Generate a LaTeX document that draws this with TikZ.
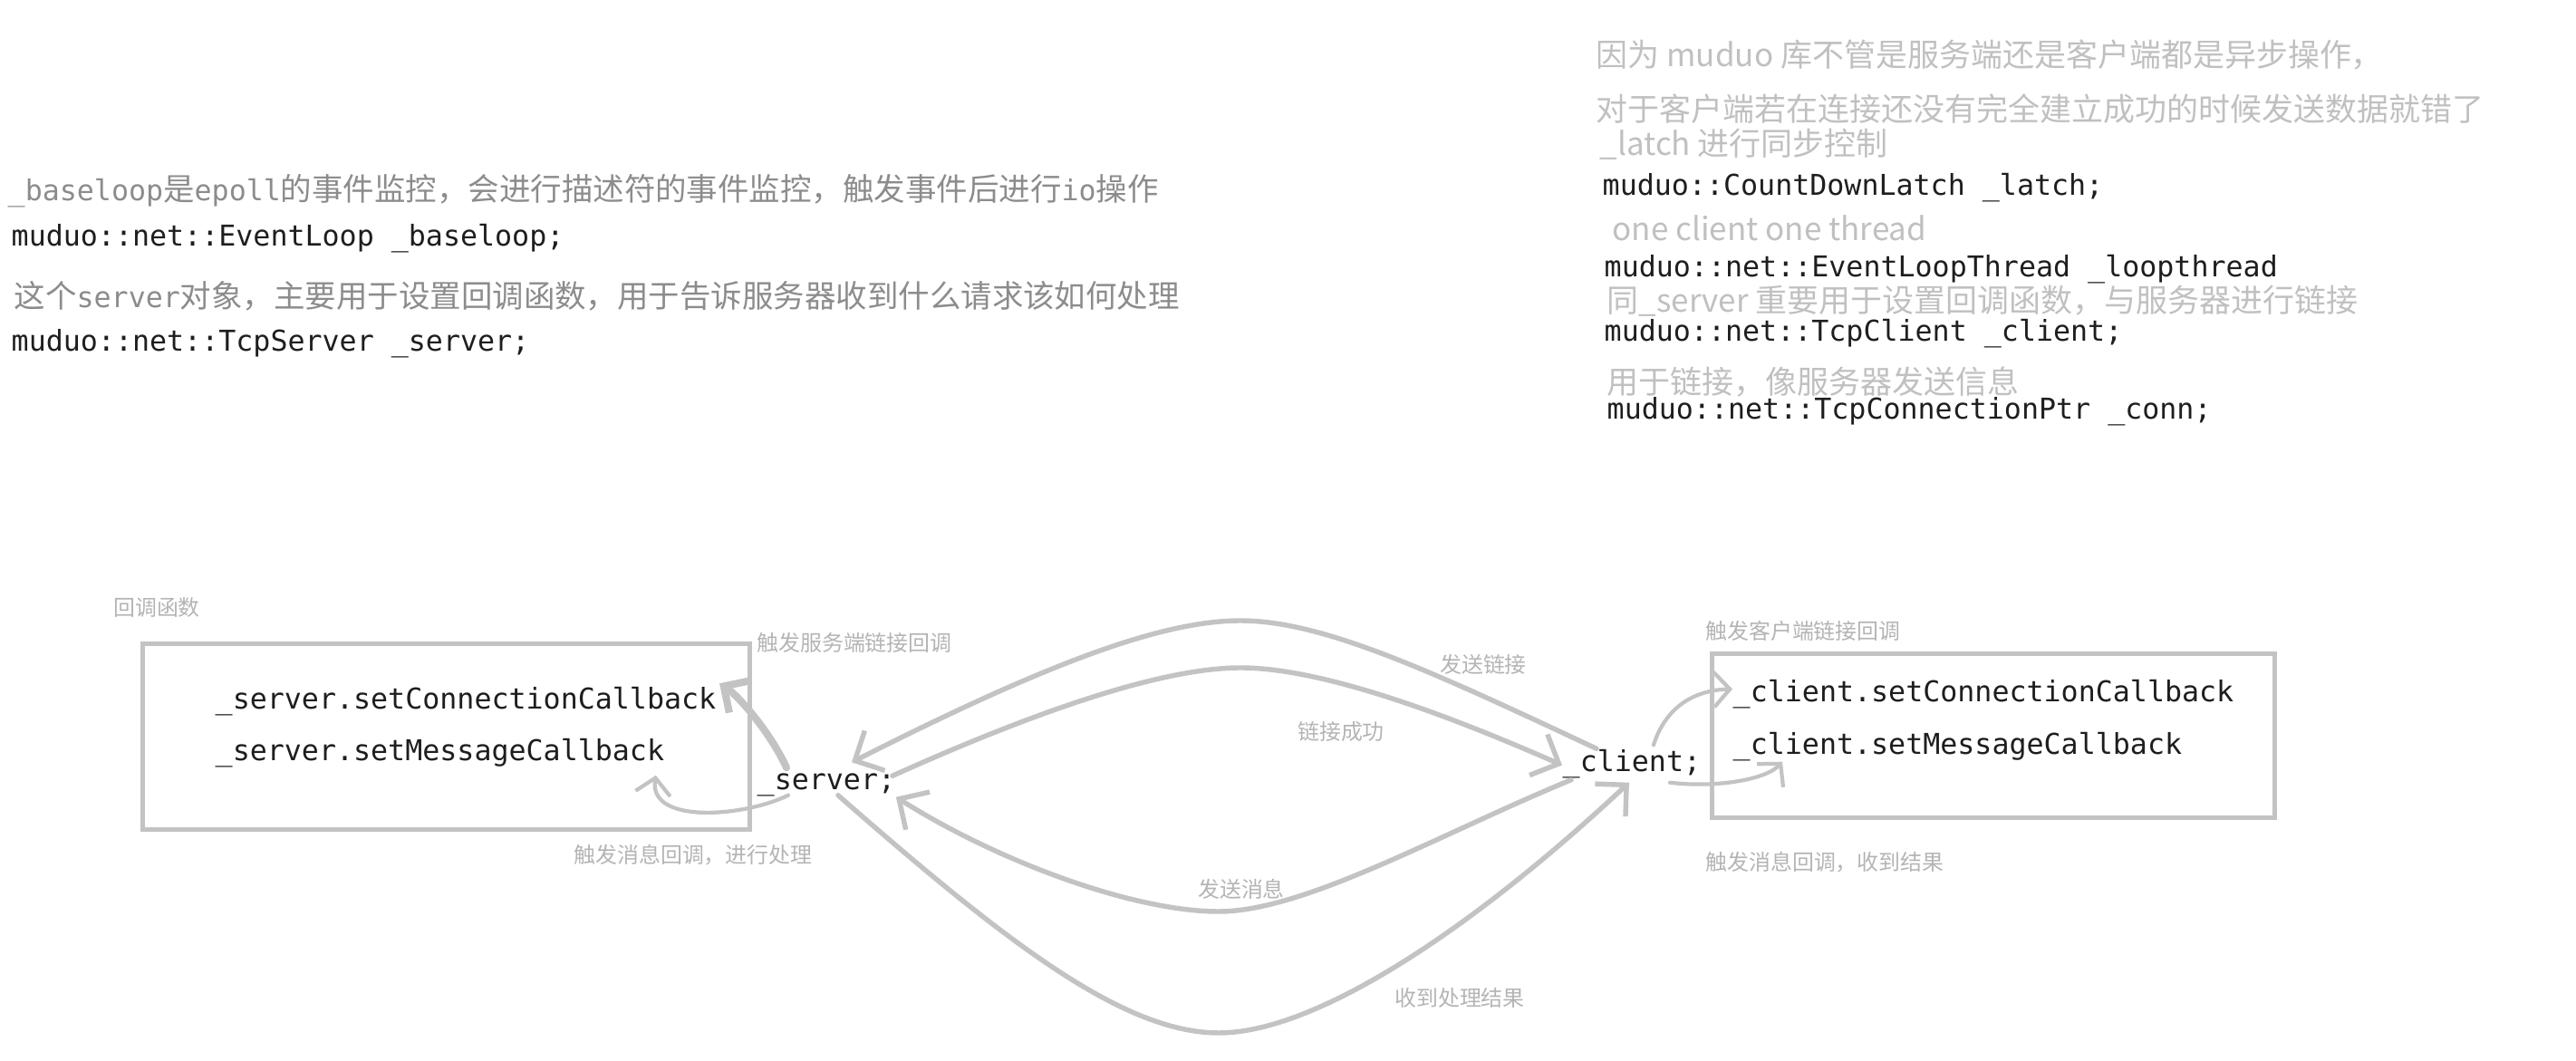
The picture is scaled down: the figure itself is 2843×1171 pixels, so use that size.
\documentclass[tikz,border=0pt]{standalone}
\usepackage{fontspec}
\setmonofont{DejaVu Sans Mono}
\newfontfamily\cjk{Noto Sans CJK SC}
\usepackage{xcolor}
\usepackage{tikz}
\usetikzlibrary{arrows.meta}
\definecolor{codeink}{HTML}{1E1E1E}
\definecolor{notedark}{HTML}{8C8C8C}
\definecolor{notelight}{HTML}{C0C0C0}
\definecolor{taggray}{HTML}{B4B4B4}
\definecolor{linegray}{HTML}{C3C3C3}
\newcommand{\hanzi}[1]{{\cjk\fontsize{9.8}{12}\selectfont #1}}
\tikzset{
  codetxt/.style={
    anchor=base west, inner sep=0pt, text=codeink,
    font=\fontsize{9}{11}\selectfont\ttfamily,
    text height=0.22cm, text depth=0.07cm},
  darknote/.style={
    anchor=base west, inner sep=0pt, text=notedark,
    font=\fontsize{9}{11}\selectfont\ttfamily},
  lightnote/.style={
    anchor=base west, inner sep=0pt, text=notelight,
    font=\cjk\fontsize{9.95}{12}\selectfont},
  edgetag/.style={
    inner sep=0pt, text=taggray,
    font=\cjk\fontsize{6.8}{8}\selectfont},
  cbbox/.style={rectangle, draw=linegray, line width=1.42pt},
  flowline/.style={draw=linegray, line width=1.55pt, line cap=round,
    -{Straight Barb[length=7pt,width=14pt]}},
  hookline/.style={draw=linegray, line width=1.2pt, line cap=round,
    -{Straight Barb[length=5pt,width=11pt]}},
  kickline/.style={draw=linegray, line width=2.3pt, line cap=round,
    -{Straight Barb[length=6pt,width=12pt]}},
}
\begin{document}
\begin{tikzpicture}[x=0.01cm, y=-0.01cm]
  \useasboundingbox (0,0) rectangle (2843,1171);
  % server side members
  \node[darknote] (nbase) at (8,222) {\_baseloop\hanzi{是}epoll\hanzi{的事件监控，会进行描述符的事件监控，触发事件后进行}io\hanzi{操作}};
  \node[codetxt] (cbase) at (12,272) {muduo::net::EventLoop \_baseloop;};
  \node[darknote] (nsrv) at (15,340) {\hanzi{这个}server\hanzi{对象，主要用于设置回调函数，用于告诉服务器收到什么请求该如何处理}};
  \node[codetxt] (csrv) at (12,388) {muduo::net::TcpServer \_server;};
  % client side members
  \node[lightnote] (nasync) at (1761,74) {因为 muduo 库不管是服务端还是客户端都是异步操作，};
  \node[lightnote] (nearly) at (1761,134) {对于客户端若在连接还没有完全建立成功的时候发送数据就错了};
  \node[lightnote] (nlatch) at (1765,172) {\_latch 进行同步控制};
  \node[codetxt] (clatch) at (1768,216) {muduo::CountDownLatch \_latch;};
  \node[lightnote] (nthread) at (1779,266) {one client one thread};
  \node[codetxt] (cthread) at (1770,306) {muduo::net::EventLoopThread \_loopthread};
  \node[lightnote] (nclient) at (1773,345) {同\_server 重要用于设置回调函数，与服务器进行链接};
  \node[codetxt] (cclient) at (1770,377) {muduo::net::TcpClient \_client;};
  \node[lightnote] (nconn) at (1773,435) {用于链接，像服务器发送信息};
  \node[codetxt] (cconnptr) at (1773,463) {muduo::net::TcpConnectionPtr \_conn;};

  % callback boxes
  \node[cbbox, minimum width=6.69cm, minimum height=2.04cm] (sbox) at (492.5,813) {};
  \node[cbbox, minimum width=6.2cm, minimum height=1.815cm] (cbox) at (2200,812) {};
  \node[codetxt] (sconn) at (237,783) {\_server.setConnectionCallback};
  \node[codetxt] (smsg) at (237,840) {\_server.setMessageCallback};
  \node[codetxt] (cconn) at (1912,775) {\_client.setConnectionCallback};
  \node[codetxt] (cmsg) at (1912,833) {\_client.setMessageCallback};
  \node[codetxt] (server) at (835,872) {\_server;};
  \node[codetxt] (client) at (1724,852) {\_client;};

  % labels
  \node[edgetag] (tcbf) at (173,670) {回调函数};
  \node[edgetag] (tscb) at (943,709) {触发服务端链接回调};
  \node[edgetag] (tsmsg) at (765,944) {触发消息回调，进行处理};
  \node[edgetag] (tccb) at (1990,696) {触发客户端链接回调};
  \node[edgetag] (tcmsg) at (2014,952) {触发消息回调，收到结果};
  \node[edgetag] (tsend) at (1637,733) {发送链接};
  \node[edgetag] (tok) at (1480,807) {链接成功};
  \node[edgetag] (tmsg) at (1370,981) {发送消息};
  \node[edgetag] (tres) at (1611,1101) {收到处理结果};

  % server <-> client
  \draw[flowline] ([shift={(38,-3)}]client.north west)
    .. controls (1580,741) and (1460,685) .. (1369,685)
    .. controls (1280,685) and (1150,735) .. ([shift={(105,-8)}]server.north west);
  \draw[flowline] ([shift={(-4,7)}]server.north east)
    .. controls (1110,800) and (1270,737) .. (1369,737)
    .. controls (1460,737) and (1600,790) .. (client.west);
  \draw[flowline] ([shift={(10,1)}]client.south west)
    .. controls (1590,920) and (1440,1006) .. (1345,1006)
    .. controls (1250,1006) and (1100,950) .. (server.south east);
  \draw[flowline] ([shift={(13,-2)}]server.south)
    .. controls (1110,1040) and (1240,1140) .. (1345,1140)
    .. controls (1450,1140) and (1620,1030) .. ([shift={(-3,4)}]client.south);

  % callbacks fired
  \draw[kickline] ([shift={(33,-2)}]server.north west)
    .. controls (850,808) and (815,768) .. ([shift={(3,-6)}]sconn.north east);
  \draw[hookline] ([shift={(35,-2)}]server.south west)
    .. controls (820,902) and (715,910) .. ([shift={(-10,8)}]smsg.south east);
  \draw[hookline] ([shift={(24,-7)}]client.north)
    .. controls (1835,790) and (1860,762) .. ([shift={(0,-7)}]cconn.west);
  \draw[hookline] ([shift={(42,4)}]client.south)
    .. controls (1895,870) and (1950,860) .. ([shift={(55,0)}]cmsg.south west);
\end{tikzpicture}
\end{document}
